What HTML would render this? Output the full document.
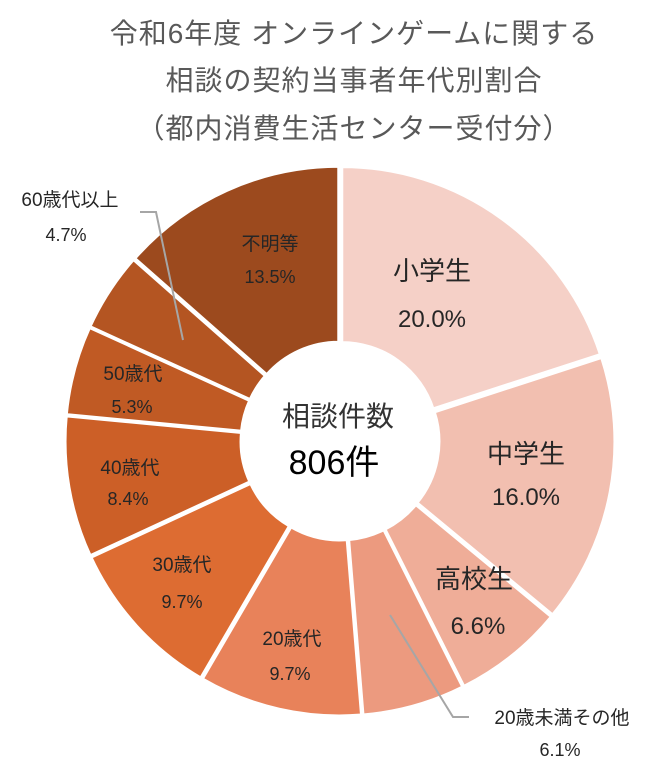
<!DOCTYPE html>
<html><head><meta charset="utf-8"><style>
html,body{margin:0;padding:0;background:#fff;}
svg{display:block;}
text{font-family:"Liberation Sans","Noto Sans CJK JP",sans-serif;}
</style></head><body>
<svg id="s" width="662" height="773" viewBox="0 0 662 773" xmlns="http://www.w3.org/2000/svg">
<g fill="#595959" font-size="28" text-anchor="middle" letter-spacing="1">
<text x="354" y="43">令和6年度 オンラインゲームに関する</text>
<text x="354" y="90">相談の契約当事者年代別割合</text>
<text x="354" y="138">（都内消費生活センター受付分）</text>
</g>
<g id="slices"></g>
<g fill="none" stroke="#a6a6a6" stroke-width="2">
<polyline points="140,212 156,212 183,340"/>
<polyline points="390,615 453,717 469,717"/>
</g>
<g fill="#262626" text-anchor="middle">
<text x="432" y="280" font-size="26">小学生</text>
<text x="432" y="327" font-size="24">20.0%</text>
<text x="526" y="463" font-size="26">中学生</text>
<text x="526" y="505" font-size="24">16.0%</text>
<text x="474" y="588" font-size="26">高校生</text>
<text x="478" y="634" font-size="24">6.6%</text>
<text x="270" y="250" font-size="19">不明等</text>
<text x="270" y="283" font-size="18">13.5%</text>
<text x="133" y="380" font-size="19">50歳代</text>
<text x="132" y="413" font-size="18">5.3%</text>
<text x="130" y="474" font-size="19">40歳代</text>
<text x="128" y="505" font-size="18">8.4%</text>
<text x="182" y="571" font-size="19">30歳代</text>
<text x="182" y="608" font-size="18">9.7%</text>
<text x="292" y="645" font-size="19">20歳代</text>
<text x="290" y="680" font-size="18">9.7%</text>
<text x="70" y="206" font-size="19">60歳代以上</text>
<text x="66" y="241" font-size="18">4.7%</text>
<text x="562" y="724" font-size="19">20歳未満その他</text>
<text x="560" y="756" font-size="18">6.1%</text>
<text x="338" y="426" font-size="28" fill="#333">相談件数</text>
<text x="334" y="474" font-size="34" fill="#000">806件</text>
</g>
</svg>
<script>
var cx=340,cy=441,R=272,r=96;
var data=[[20,"#f5d0c7"],[16,"#f2bfb0"],[6.6,"#efad98"],[6.1,"#ec9a7f"],[9.7,"#e8825a"],[9.7,"#dd6c32"],[8.4,"#cc5f27"],[5.3,"#c05a24"],[4.7,"#b45522"],[13.5,"#9c4a1e"]];
var a=0,g=document.getElementById("slices"),h="";
function P(ang,rad,ox,oy){var t=(ang-90)*Math.PI/180;return [(cx+ox+rad*Math.cos(t)).toFixed(2),(cy+oy+rad*Math.sin(t)).toFixed(2)];}
data.forEach(function(d){var s=a,e=a+d[0]*3.6;a=e;var m=(s+e)/2,t=(m-90)*Math.PI/180,ox=3*Math.cos(t),oy=3*Math.sin(t);
var l=(e-s)>180?1:0,p1=P(s,R,ox,oy),p2=P(e,R,ox,oy),p3=P(e,r,ox,oy),p4=P(s,r,ox,oy);
h+='<path d="M'+p1+' A'+R+' '+R+' 0 '+l+' 1 '+p2+' L'+p3+' A'+r+' '+r+' 0 '+l+' 0 '+p4+' Z" fill="'+d[1]+'" stroke="#fff" stroke-width="3"/>';});
g.innerHTML=h;
</script>
</body></html>
